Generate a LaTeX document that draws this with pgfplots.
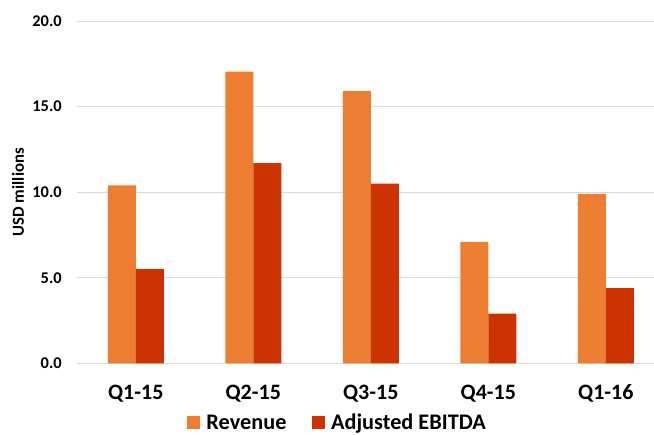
\documentclass[border=0pt]{standalone}
\usepackage{fontspec}
\setmainfont{Carlito}
\usepackage{pgfplots}
\pgfplotsset{compat=1.18}
\definecolor{revenue}{HTML}{ED7D31}
\definecolor{ebitda}{HTML}{CC3300}
\definecolor{gridgray}{HTML}{D9D9D9}

\begin{document}
\begin{tikzpicture}
\path[use as bounding box] (0pt,0pt) rectangle (490.5pt,-326.25pt);
\begin{axis}[
  at={(57.75pt,-272.5pt)}, anchor=south west,
  scale only axis, width=432.75pt, height=256.7pt,
  xmin=-0.5, xmax=4.41, ymin=0, ymax=20,
  ybar=0pt, bar width=21pt,
  axis line style={draw=none},
  major tick length=0pt,
  ymajorgrids, grid style={gridgray, line width=0.8pt},
  xtick={0,1,2,3,4},
  xticklabels={Q1-15,Q2-15,Q3-15,Q4-15,Q1-16},
  xticklabel style={font=\fontsize{16.5}{18}\selectfont\bfseries, anchor=base, inner sep=0pt, yshift=-26.8pt},
  ytick={0,5,10,15,20},
  /pgf/number format/assume math mode=true,
  yticklabel style={/pgf/number format/.cd, fixed, fixed zerofill, precision=1, /tikz/.cd,
    font=\fontsize{12.3}{14}\selectfont\bfseries, anchor=east, inner sep=0pt, xshift=-11.25pt},
  ylabel={USD millions},
  ylabel style={at={(axis description cs:-0.0919,0.5)}, anchor=base, inner sep=0pt,
    font=\fontsize{12.6}{14}\selectfont\bfseries},
  legend style={at={(axis description cs:0.452,-0.174)}, anchor=center, draw=none,
    font=\fontsize{16.7}{18}\selectfont\bfseries, legend columns=2,
    /tikz/every even column/.append style={column sep=17pt}},
  legend image code/.code={\fill[#1] (0pt,-4.8pt) rectangle (9.6pt,4.8pt);
    \path (0pt,0pt) -- (12.5pt,0pt);},
]
\addplot[fill=revenue, draw=none] coordinates {(0,10.4) (1,17.05) (2,15.9) (3,7.1) (4,9.9)};
\addplot[fill=ebitda, draw=none] coordinates {(0,5.5) (1,11.7) (2,10.5) (3,2.9) (4,4.4)};
\legend{Revenue, Adjusted EBITDA}
\end{axis}
\end{tikzpicture}
\end{document}
